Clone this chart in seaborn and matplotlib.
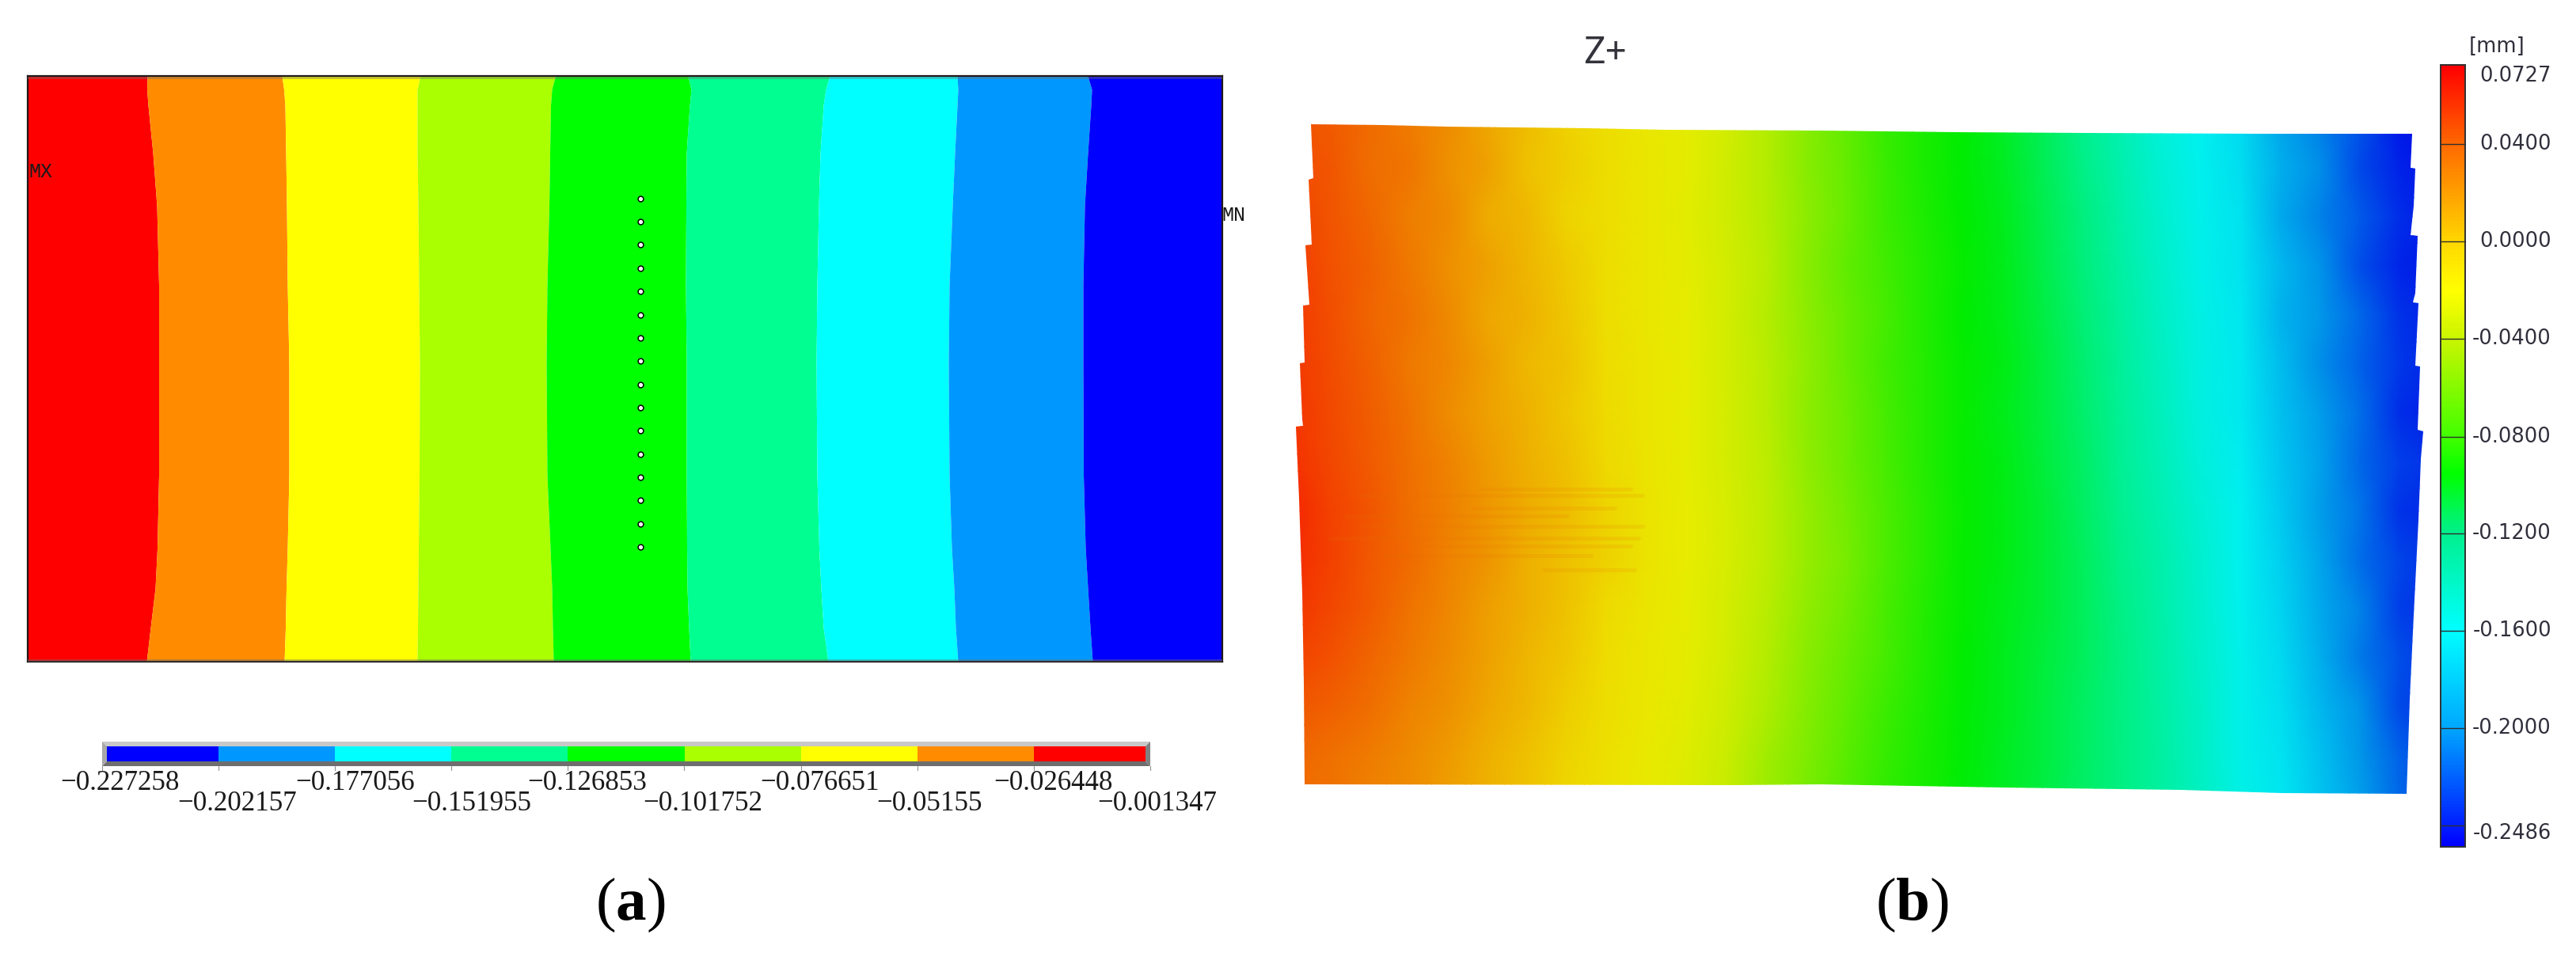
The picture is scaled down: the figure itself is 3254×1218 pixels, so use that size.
import numpy as np
import pandas as pd
import matplotlib
matplotlib.use("Agg")
import matplotlib.pyplot as plt
from matplotlib.colors import ListedColormap, LinearSegmentedColormap
from matplotlib.patches import Polygon, Rectangle
import seaborn as sns

# ---------- panel (a) data ----------
band_colors = ["#ff0000", "#ff8c00", "#ffff00", "#aaff00", "#00ff00",
               "#00ff90", "#00ffff", "#0098ff", "#0000ff"]
legend_colors = band_colors[::-1]
legend_top = ["\u22120.227258", "\u22120.177056", "\u22120.126853", "\u22120.076651", "\u22120.026448"]
legend_bottom = ["\u22120.202157", "\u22120.151955", "\u22120.101752", "\u22120.05155", "\u22120.001347"]
contour_y = [96, 113, 133, 193, 260, 360, 460, 600, 693, 743, 793, 836]
contour_1 = [186, 185.5, 187, 193, 198, 200.5, 200.5, 200.5, 198.5, 196, 190, 185]
contour_2 = [356, 358.5, 360, 361, 362, 363, 365, 365, 363, 361.5, 360.5, 359]
contour_3 = [531, 527, 527, 527, 528, 529, 530, 529.5, 528.5, 528, 527.5, 527]
contour_4 = [701.5, 697, 695.5, 694.5, 693.5, 691, 690, 691, 695, 697, 698, 699]
contour_5 = [869, 873, 871, 867, 866.5, 866, 867, 867, 867.5, 868, 870, 872]
contour_6 = [1048, 1043, 1040, 1036, 1034, 1032, 1031, 1032, 1034.5, 1037, 1040, 1046]
contour_7 = [1209, 1210, 1209, 1206, 1203, 1199, 1198, 1199, 1202, 1205, 1207, 1210]
contour_8 = [1374, 1379, 1378, 1374, 1370, 1368, 1368, 1368.5, 1371, 1374, 1377, 1380]
point_x = [809] * 16
point_y = [251, 280, 309, 339, 368, 398, 427, 456, 486, 515, 544, 574, 603, 632, 662, 691]

# ---------- panel (b) data: deformation in micrometres ----------
field_rows = [
    [46,42,36,30,24,15,9,3,-3,-14,-22,-30,-42,-56,-68,-80,-88,-95,-103,-113,-124,-138,-152,-160,-168,-190,-205,-218,-240,-245],
    [48,44,35,32,22,17,8,4,-3,-13,-22,-31,-42,-57,-67,-79,-88,-96,-102,-112,-123,-136,-150,-159,-167,-186,-200,-222,-236,-242],
    [52,45,37,29,25,14,10,2,-2,-13,-23,-31,-41,-55,-66,-78,-87,-95,-101,-111,-121,-134,-148,-158,-165,-188,-204,-216,-232,-240],
    [55,46,39,31,23,17,11,5,-3,-13,-22,-30,-40,-56,-68,-77,-86,-94,-100,-110,-120,-132,-146,-157,-164,-182,-198,-220,-235,-240],
    [56,47,38,33,25,15,12,6,-2,-13,-21,-30,-41,-55,-66,-76,-86,-95,-100,-109,-119,-130,-144,-156,-163,-184,-196,-212,-230,-238],
    [57,48,40,31,26,18,10,7,-1,-12,-21,-30,-40,-54,-66,-77,-85,-94,-99,-108,-118,-129,-142,-155,-162,-180,-200,-214,-228,-236],
    [58,49,41,33,24,17,12,6,0,-11,-21,-29,-40,-55,-65,-76,-85,-93,-100,-108,-117,-128,-141,-154,-162,-178,-194,-210,-232,-238],
    [60,50,42,34,27,19,13,8,1,-10,-21,-29,-39,-54,-65,-75,-85,-94,-99,-107,-116,-127,-139,-152,-161,-176,-192,-212,-226,-232],
    [64,52,44,35,28,20,14,9,2,-9,-20,-28,-38,-52,-63,-74,-84,-93,-99,-106,-115,-125,-137,-150,-160,-174,-194,-208,-230,-234],
    [62,53,43,36,27,21,13,8,3,-9,-20,-28,-38,-52,-62,-74,-84,-94,-99,-106,-114,-124,-135,-148,-160,-172,-190,-210,-224,-232],
    [58,50,42,33,26,18,13,7,0,-11,-21,-29,-40,-54,-64,-75,-85,-94,-100,-106,-114,-123,-134,-147,-159,-170,-188,-204,-226,-232],
    [52,46,38,31,24,17,11,6,-1,-13,-22,-30,-42,-56,-66,-76,-86,-95,-101,-107,-114,-122,-133,-146,-158,-168,-186,-206,-220,-230],
    [44,40,35,27,22,15,10,4,-3,-14,-23,-32,-44,-58,-68,-78,-87,-96,-101,-108,-115,-122,-132,-145,-158,-166,-182,-198,-222,-228],
    [38,34,30,25,19,13,8,2,-5,-16,-25,-34,-48,-60,-70,-80,-88,-96,-102,-108,-115,-122,-131,-144,-157,-164,-178,-196,-214,-225],
    [35,33,27,24,17,12,7,1,-6,-17,-26,-35,-50,-62,-72,-82,-89,-97,-102,-109,-116,-122,-131,-143,-156,-163,-176,-192,-212,-222],
]
scale_labels = ["0.0727", "0.0400", "0.0000", "-0.0400", "-0.0800",
                "-0.1200", "-0.1600", "-0.2000", "-0.2486"]
field_stops = [(-248.6, "#0000e8"), (-220, "#0050e8"), (-200, "#0090e8"), (-175, "#00c8f0"),
               (-160, "#00f0f0"), (-125, "#00f090"), (-95, "#00ec00"), (-60, "#80ec00"),
               (-35, "#c8ec00"), (-20, "#e8ec00"), (0, "#eedc00"), (20, "#ee9800"),
               (40, "#f06000"), (72.7, "#f81000")]
bar_stops = [(82, "#ff0000"), (182, "#ff6a00"), (305, "#ffd800"), (367, "#ffff00"),
             (428, "#c8f500"), (552, "#40ff00"), (600, "#00ff00"), (674, "#00f08c"),
             (797, "#00ffff"), (920, "#00a8ff"), (1043, "#0020ff"), (1070, "#0000ff")]

# faint scan streaks across the left part of the field
stripe_y = [618, 626, 642, 652, 665, 680, 690, 702, 720]
stripe_x0 = [1870, 1720, 1860, 1700, 1720, 1680, 1800, 1750, 1950]
stripe_x1 = [2060, 2075, 2040, 1980, 2075, 2070, 2060, 2010, 2065]

# ---------- layout ----------
W, H = 3254, 1218
DPI = 100
sns.set_theme(style="white")
plt.rcParams["mathtext.fontset"] = "custom"
plt.rcParams["mathtext.rm"] = "Liberation Serif"
plt.rcParams["mathtext.bf"] = "Liberation Serif:bold"

fig = plt.figure(figsize=(W / DPI, H / DPI), dpi=DPI, facecolor="white")


def px_axes(x0, y0, x1, y1, **kw):
    return fig.add_axes([x0 / W, 1 - y1 / H, (x1 - x0) / W, (y1 - y0) / H], **kw)


PT = 72 / DPI

# ---------- panel (a): contour bands ----------
ax_a = px_axes(35, 96, 1544, 836)
edges = [[35] * 12, contour_1, contour_2, contour_3, contour_4, contour_5,
         contour_6, contour_7, contour_8, [1544] * 12]
for i, color in enumerate(band_colors):
    ax_a.fill_betweenx(contour_y, edges[i], edges[i + 1], color=color, lw=0)
sns.scatterplot(x=point_x, y=point_y, ax=ax_a, color="white", edgecolor="black",
                s=24, linewidth=1.1, zorder=5, legend=False)
for y in (98, 834):
    ax_a.axhline(y, color="#707070", alpha=0.4, lw=3 * PT, zorder=4)
ax_a.set_xlim(35, 1544)
ax_a.set_ylim(836, 96)
ax_a.set_xticks([])
ax_a.set_yticks([])
for s in ax_a.spines.values():
    s.set_visible(True)
    s.set_color("#201818")
    s.set_linewidth(1.6)

# legend of panel (a)
ax_l = px_axes(135, 943, 1447, 962)
sns.heatmap(np.arange(9)[None, :], cmap=ListedColormap(legend_colors), cbar=False,
            xticklabels=False, yticklabels=False, ax=ax_l)
ax_l.set_xlim((135 - 129) / 147.1, (1447 - 129) / 147.1)

# ---------- panel (b): measured field ----------
FX0, FDX, FY0, FDY = 1630, 50, 150, 62
field = pd.DataFrame(field_rows)
ax_b = px_axes(FX0, FY0, FX0 + FDX * 29, FY0 + FDY * 14)
vmin, vmax = field_stops[0][0], field_stops[-1][0]
field_cmap = LinearSegmentedColormap.from_list(
    "field", [((v - vmin) / (vmax - vmin), c) for v, c in field_stops], N=512)
sns.heatmap(field, cmap=field_cmap, vmin=vmin, vmax=vmax, cbar=False, shading="gouraud",
            xticklabels=False, yticklabels=False, ax=ax_b)
ax_b.set_xlim(0, 29)
ax_b.set_ylim(14, 0)
ax_b.patch.set_alpha(0)

outline_px = [(1656, 157), (1747, 158), (1828, 160), (2004, 162), (2104, 164), (2300, 165),
              (2472, 167), (2636, 168), (2852, 169), (3047, 169), (3045, 212), (3051, 213),
              (3049, 260), (3045, 297), (3054, 298), (3051, 370), (3048, 382), (3055, 383),
              (3051, 462), (3057, 463), (3054, 543), (3061, 545), (3058, 580), (3055, 657),
              (3049, 777), (3044, 883), (3040, 1003), (2882, 1002), (2755, 998), (2531, 995),
              (2300, 991), (2189, 992), (1648, 991), (1647, 863), (1645, 750), (1641, 630),
              (1637, 539), (1646, 538), (1645, 530), (1642, 459), (1648, 458), (1646, 386),
              (1654, 385), (1649, 310), (1657, 309), (1653, 227), (1659, 225)]
outline = [((x - FX0) / FDX, (y - FY0) / FDY) for x, y in outline_px]
clip = Polygon(outline, closed=True, transform=ax_b.transData)
for coll in ax_b.collections:
    coll.set_clip_path(clip)

# colour scale of panel (b)
ax_s = px_axes(3083, 82, 3114, 1070)
y0, y1 = bar_stops[0][0], bar_stops[-1][0]
bar_cmap = LinearSegmentedColormap.from_list(
    "bar", [((y - y0) / (y1 - y0), c) for y, c in bar_stops], N=512)
sns.heatmap(np.linspace(0, 1, 256)[:, None], cmap=bar_cmap, vmin=0, vmax=1, cbar=False,
            xticklabels=False, yticklabels=False, ax=ax_s)

# ---------- overlay in figure pixels: decoration and text ----------
ov = fig.add_axes([0, 0, 1, 1], zorder=10)
ov.set_xlim(0, W)
ov.set_ylim(H, 0)
ov.axis("off")
ov.patch.set_alpha(0)

for y, a, b in zip(stripe_y, stripe_x0, stripe_x1):
    ov.plot([a, b], [y, y], color="#e87000", alpha=0.13, lw=5 * PT, solid_capstyle="round")

# bevel of legend (a)
ov.add_patch(Polygon([(129, 937), (1453, 937), (1447, 943), (135, 943)], fc="#c8c8c8", ec="none"))
ov.add_patch(Polygon([(129, 968), (1453, 968), (1447, 962), (135, 962)], fc="#6e6e6e", ec="none"))
ov.add_patch(Polygon([(129, 937), (135, 943), (135, 962), (129, 968)], fc="#a8a8a8", ec="none"))
ov.add_patch(Polygon([(1453, 937), (1447, 943), (1447, 962), (1453, 968)], fc="#808080", ec="none"))
for i in range(10):
    x = 129 + 147.1 * i
    ov.plot([x, x], [968, 973], color="#909090", lw=0.8)

legend_font = dict(family="Liberation Serif", color="#1a1a1a", fontsize=35 * PT, ha="center", va="center")
for x, label in zip([151, 449, 742, 1036, 1330], legend_top):
    ov.text(x, 989, label, **legend_font)
for x, label in zip([300, 596, 888, 1174, 1462], legend_bottom):
    ov.text(x, 1015, label, **legend_font)
small = dict(family="Liberation Mono", color="#1a1a1a", fontsize=25 * PT, ha="center", va="center")
ov.text(51, 217, "MX", **small)
ov.text(1558, 272, "MN", **small)

# scale frame and ticks (b)
ov.add_patch(Rectangle((3083, 82), 31, 988, fc="none", ec="#303030", lw=1.4))
for y in [182, 305, 428, 552, 674, 797, 920, 1043]:
    ov.plot([3083, 3114], [y, y], color="#303030", lw=1.0)
sans = dict(family="DejaVu Sans", color="#30303c", fontsize=25.7 * PT, ha="right", va="center")
for y, label in zip([96, 182, 305, 428, 552, 674, 797, 920, 1053], scale_labels):
    ov.text(3223, y, label, **sans)
ov.text(3154, 59, "[mm]", family="DejaVu Sans", color="#30303c", fontsize=25.7 * PT,
        ha="center", va="center")
ov.text(2028, 67, "Z+", family="Noto Sans", color="#33333c", fontsize=48 * PT,
        ha="center", va="center")

serif = dict(family="Liberation Serif", color="black", fontsize=77 * PT, ha="center", va="center")
ov.text(796, 1143, r"($\mathbf{a}$)", **serif)
ov.text(2415, 1143, r"($\mathbf{b}$)", **serif)

ov.set_xlim(0, W)
ov.set_ylim(H, 0)
fig.savefig("out.png", dpi=DPI, facecolor="white")
